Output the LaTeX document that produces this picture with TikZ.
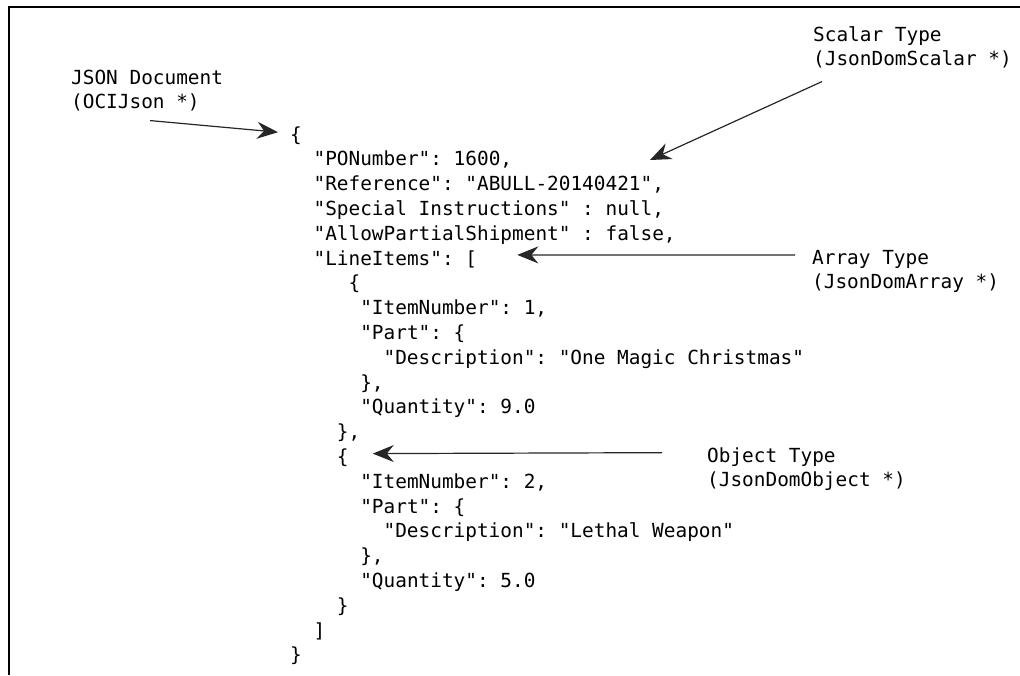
\documentclass[tikz,border=0pt]{standalone}
\usepackage{fontspec}
\setmonofont{DejaVu Sans Mono}
\usetikzlibrary{arrows.meta}

\tikzset{
	code/.style={anchor=base west, inner sep=0pt, text=black,
		font=\ttfamily\fontsize{19.4}{24.8}\selectfont},
	ptr/.style={-{Stealth[length=21pt,width=17pt,inset=7pt]}, line width=1.2pt, draw=black!85},
}

\begin{document}
\begin{tikzpicture}[x=1pt, y=-1pt]
			%%%%% START %%%%%
			\useasboundingbox (0,0) rectangle (1020,675);
			
			\draw[line width=2pt] (9,675) -- (9,7) -- (1020,7);
			
			% labels
			\node[code] (doc1) at (71, 84) {JSON Document};
			\node[code] (doc2) at (71, 108.8) {(OCIJson *)};
			\node[code] (scal1) at (813, 41) {Scalar Type};
			\node[code] (scal2) at (813, 65.8) {(JsonDomScalar *)};
			\node[code] (arr1) at (812, 264) {Array Type};
			\node[code] (arr2) at (812, 288.8) {(JsonDomArray *)};
			\node[code] (obj1) at (707, 462) {Object Type};
			\node[code] (obj2) at (707, 486.8) {(JsonDomObject *)};
			
			% document
			\node[code] (l0) at (290, 141) {\{};
			\node[code] (l1) at (313.4, 165.8) {"PONumber": 1600,};
			\node[code] (l2) at (313.4, 190.6) {"Reference": "ABULL-20140421",};
			\node[code] (l3) at (313.4, 215.4) {"Special Instructions" : null,};
			\node[code] (l4) at (313.4, 240.2) {"AllowPartialShipment" : false,};
			\node[code] (l5) at (313.4, 265) {"LineItems": [};
			\node[code] (l6) at (348.4, 289.8) {\{};
			\node[code] (l7) at (360.1, 314.6) {"ItemNumber": 1,};
			\node[code] (l8) at (360.1, 339.4) {"Part": \{};
			\node[code] (l9) at (383.4, 364.2) {"Description": "One Magic Christmas"};
			\node[code] (l10) at (360.1, 389) {\},};
			\node[code] (l11) at (360.1, 413.8) {"Quantity": 9.0};
			\node[code] (l12) at (336.7, 438.6) {\},};
			\node[code] (l13) at (336.7, 463.4) {\{};
			\node[code] (l14) at (360.1, 488.2) {"ItemNumber": 2,};
			\node[code] (l15) at (360.1, 513) {"Part": \{};
			\node[code] (l16) at (383.4, 537.8) {"Description": "Lethal Weapon"};
			\node[code] (l17) at (360.1, 562.6) {\},};
			\node[code] (l18) at (360.1, 587.4) {"Quantity": 5.0};
			\node[code] (l19) at (336.7, 612.2) {\}};
			\node[code] (l20) at (313.4, 637) {]};
			\node[code] (l21) at (290, 661.8) {\}};
			
			% pointers
			\coordinate (scaltip) at (650, 160);
			\draw[ptr] ([shift={(79,9)}]doc2.south west) -- ([shift={(-12,-3)}]l0.west);
			\draw[ptr] ([shift={(9,13)}]scal2.south west) -- (scaltip);
			\draw[ptr] ([shift={(-17,-4)}]arr1.west) -- ([shift={(40,-4)}]l5.east);
			\draw[ptr] ([shift={(-45,-4)}]obj1.west) -- ([shift={(24,-4)}]l13.east);
			
			%%%%% END %%%%%
\end{tikzpicture}
\end{document}
